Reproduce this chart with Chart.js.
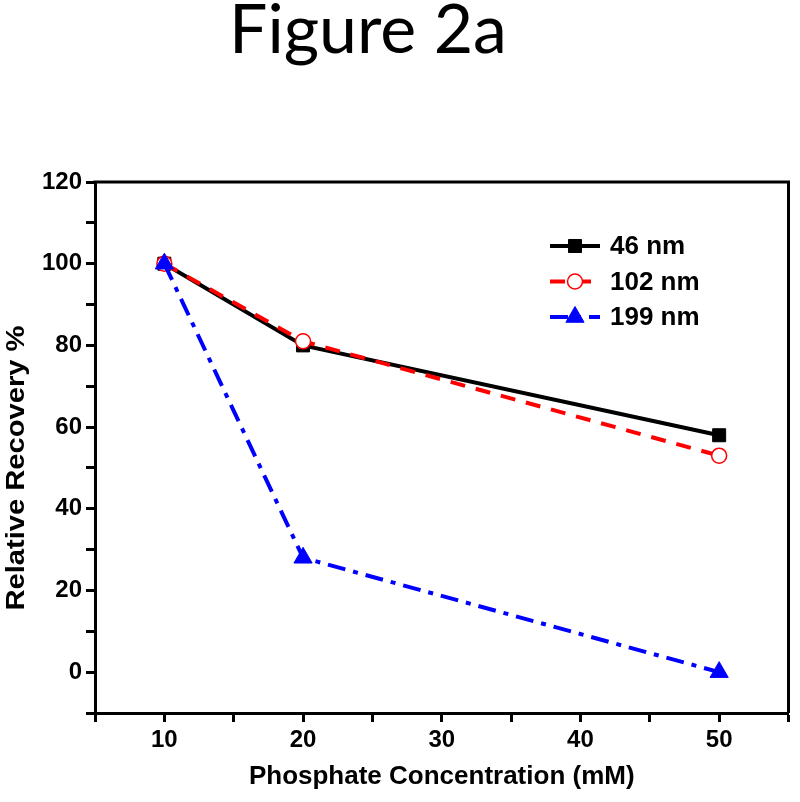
<!DOCTYPE html>
<html>
<head>
<meta charset="utf-8">
<script src="https://cdn.jsdelivr.net/npm/chart.js@4.4.1/dist/chart.umd.min.js"></script>
<style>
  html, body { margin: 0; padding: 0; background: #fff; }
  #wrap { position: relative; width: 800px; height: 802px; }
  #figTitle {
    position: absolute; left: 0; top: -14px; width: 736px;
    text-align: center; font: 68px Lato, "Open Sans", sans-serif; line-height: 82px; color: #000;
  }
  #chart { position: absolute; left: 0; top: 0; }
</style>
</head>
<body>
<div id="wrap">
  <canvas id="chart" width="800" height="802"></canvas>
  <div id="figTitle">Figure 2a</div>
</div>
<script>
const concentrations = [10, 20, 50];
const recovery46 = [100, 80, 58];
const recovery102 = [100, 81, 53];
const recovery199 = [100, 28, 0];
const seriesLabels = ["46 nm", "102 nm", "199 nm"];
const xTickLabels = [10, 20, 30, 40, 50];
const yTickLabels = [0, 20, 40, 60, 80, 100, 120];

const FONT = "'Liberation Sans', Arial, sans-serif";

function puntos(valores) {
  return concentrations.map((c, i) => ({ x: c, y: valores[i] }));
}

const framePlugin = {
  id: "frame",
  afterDatasetsDraw(chart) {
    const { ctx, chartArea } = chart;
    ctx.save();
    ctx.strokeStyle = "#000";
    ctx.lineWidth = 3;
    ctx.beginPath();
    ctx.moveTo(chartArea.left - 1.5, chartArea.top);
    ctx.lineTo(chartArea.right, chartArea.top);
    ctx.lineTo(chartArea.right, chartArea.bottom);
    ctx.stroke();
    ctx.restore();
  },
};

// titulo do eixo y desenhado a parte (fora do centro do eixo no original)
const yTitlePlugin = {
  id: "yTitle",
  afterDraw(chart) {
    const ctx = chart.ctx;
    ctx.save();
    ctx.translate(17, 468);
    ctx.rotate(-Math.PI / 2);
    ctx.scale(1.12, 1);
    ctx.font = "bold 26px " + FONT;
    ctx.fillStyle = "#000";
    ctx.textAlign = "center";
    ctx.textBaseline = "middle";
    ctx.fillText("Relative Recovery %", 0, 0);
    ctx.restore();
  },
};

const legendPlugin = {
  id: "boxLegend",
  afterDraw(chart) {
    const { ctx, chartArea } = chart;
    const x0 = chartArea.left + 455;
    const x1 = x0 + 50;
    chart.data.datasets.forEach((ds, i) => {
      const y = chartArea.top + 64 + i * 35.5;
      ctx.save();
      ctx.strokeStyle = ds.borderColor;
      ctx.lineWidth = ds.borderWidth;
      ctx.setLineDash(ds.borderDash || []);
      ctx.beginPath();
      ctx.moveTo(x0, y);
      ctx.lineTo(x1, y);
      ctx.stroke();
      ctx.setLineDash([]);

      ctx.fillStyle = ds.pointBackgroundColor;
      ctx.strokeStyle = ds.pointBorderColor;
      ctx.lineWidth = ds.pointBorderWidth;
      Chart.helpers.drawPoint(ctx, {
        pointStyle: ds.pointStyle,
        radius: ds.pointRadius,
        borderWidth: ds.pointBorderWidth,
      }, (x0 + x1) / 2, y);

      ctx.font = "bold 26px " + FONT;
      ctx.fillStyle = "#000";
      ctx.textAlign = "left";
      ctx.textBaseline = "middle";
      ctx.fillText(seriesLabels[i], x1 + 10, y + 1);
      ctx.restore();
    });
  },
};

new Chart(document.getElementById("chart"), {
  type: "line",
  plugins: [framePlugin, yTitlePlugin, legendPlugin],
  data: {
    datasets: [
      {
        label: seriesLabels[0],
        data: puntos(recovery46),
        borderColor: "#000000",
        borderWidth: 4,
        pointStyle: "rect",
        pointRadius: 9.2,
        pointBackgroundColor: "#000000",
        pointBorderColor: "#000000",
        pointBorderWidth: 1,
        tension: 0,
        order: 3,
      },
      {
        label: seriesLabels[1],
        data: puntos(recovery102),
        borderColor: "#ff0000",
        borderWidth: 4,
        borderDash: [15, 11],
        pointStyle: "circle",
        pointRadius: 7.5,
        pointBackgroundColor: "#ffffff",
        pointBorderColor: "#ff0000",
        pointBorderWidth: 1.5,
        tension: 0,
        order: 2,
      },
      {
        label: seriesLabels[2],
        data: puntos(recovery199),
        borderColor: "#0000ff",
        borderWidth: 4,
        borderDash: [18, 8, 5, 8],
        pointStyle: "triangle",
        pointRadius: 10.5,
        pointBackgroundColor: "#0000ff",
        pointBorderColor: "#0000ff",
        pointBorderWidth: 1,
        tension: 0,
        order: 1,
      },
    ],
  },
  options: {
    responsive: false,
    animation: false,
    layout: { padding: { left: 0, right: 7, top: 182, bottom: 0 } },
    plugins: {
      legend: { display: false },
      tooltip: { enabled: false },
    },
    scales: {
      x: {
        type: "linear",
        min: 5,
        max: 55,
        afterFit(scale) { scale.height = 89; },
        ticks: {
          stepSize: 5,
          autoSkip: false,
          maxRotation: 0,
          padding: 4,
          color: "#000",
          font: { family: FONT, size: 24, weight: "bold" },
          callback: (v) => (xTickLabels.includes(v) ? String(v) : ""),
        },
        grid: { drawOnChartArea: false, drawTicks: true, tickLength: 9, tickWidth: 3, tickColor: "#000" },
        border: { display: true, width: 3, color: "#000" },
        title: {
          display: true,
          text: "Phosphate Concentration (mM)",
          color: "#000",
          font: { family: FONT, size: 26, weight: "bold" },
          padding: { top: 0, bottom: 10 },
        },
      },
      y: {
        min: -10,
        max: 120,
        afterFit(scale) { scale.width = 95; },
        ticks: {
          stepSize: 10,
          autoSkip: false,
          padding: 4,
          color: "#000",
          font: { family: FONT, size: 24, weight: "bold" },
          callback: (v) => (yTickLabels.includes(v) ? String(v) : ""),
        },
        grid: { drawOnChartArea: false, drawTicks: true, tickLength: 9, tickWidth: 3, tickColor: "#000" },
        border: { display: true, width: 3, color: "#000" },
      },
    },
  },
});
</script>
</body>
</html>
